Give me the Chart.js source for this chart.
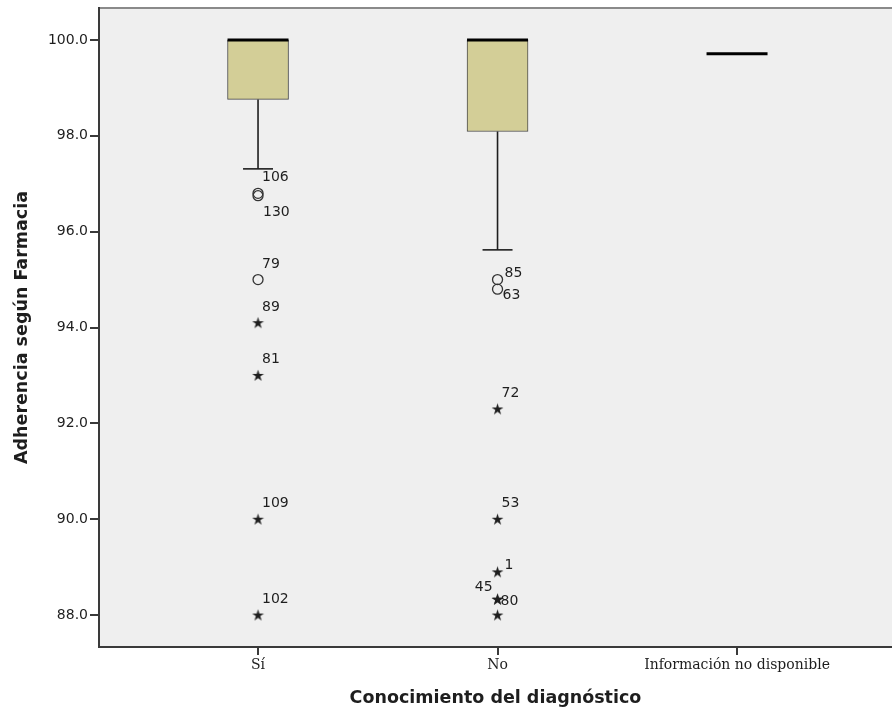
<!DOCTYPE html>
<html>
<head>
<meta charset="utf-8">
<script src="https://cdn.jsdelivr.net/npm/chart.js@4/dist/chart.umd.min.js"></script>
<style>
  html, body { margin: 0; padding: 0; background: #fff; }
  #wrap { width: 892px; height: 716px; }
</style>
</head>
<body>
<div id="wrap"><canvas id="boxChart" width="892" height="716"></canvas></div>
<script>
// box statistics per group
const categories = ['Sí', 'No', 'Información no disponible'];
const q1 = [98.76, 98.09, 99.71];
const median = [100.0, 100.0, 99.71];
const q3 = [100.0, 100.0, 99.71];
const whiskerLow = [97.31, 95.62, 99.71];
const whiskerHigh = [100.0, 100.0, 99.71];
const yTicks = [88, 90, 92, 94, 96, 98, 100];

// outliers (circle = atípico, star = extremo)
const outlierGroup = [0, 0, 0, 0, 0, 0, 0, 1, 1, 1, 1, 1, 1, 1, 1];
const outlierValue = [96.8, 96.75, 95.0, 94.1, 93.0, 90.0, 88.0, 95.0, 94.8, 92.3, 90.0, 88.9, 88.33, 88.33, 88.0];
const outlierId = ['106', '130', '79', '89', '81', '109', '102', '85', '63', '72', '53', '1', '45', '80', ''];
const outlierKind = ['circle', 'circle', 'circle', 'star', 'star', 'star', 'star', 'circle', 'circle', 'star', 'star', 'star', 'star', 'star', 'star'];

// where each case number sits relative to its mark
const labelPlacement = { '130': 'below', '85': 'upRight', '63': 'downRight', '80': 'right', '45': 'left', '1': 'upRight' };

const ink = '#1e1e1e';

const starImg = (() => {
  const c = document.createElement('canvas');
  c.width = 13; c.height = 13;
  const g = c.getContext('2d');
  g.beginPath();
  for (let k = 0; k < 10; k++) {
    const r = k % 2 === 0 ? 6.2 : 2.3;
    const a = -Math.PI / 2 + k * Math.PI / 5;
    const px = 6.5 + r * Math.cos(a), py = 6.9 + r * Math.sin(a);
    if (k === 0) g.moveTo(px, py); else g.lineTo(px, py);
  }
  g.closePath();
  g.fillStyle = ink;
  g.fill();
  return c;
})();

const boxes = [];
const whiskers = [];
const caps = [];
const medians = [];
categories.forEach((c, i) => {
  if (q3[i] > q1[i]) boxes.push({ x: i, y: [q1[i], q3[i]] });
  if (whiskerLow[i] < q1[i]) {
    whiskers.push({ x: i, y: q1[i] }, { x: i, y: whiskerLow[i] }, { x: i, y: null });
    caps.push({ x: i, y: whiskerLow[i] });
  }
  if (whiskerHigh[i] > q3[i]) {
    whiskers.push({ x: i, y: q3[i] }, { x: i, y: whiskerHigh[i] }, { x: i, y: null });
    caps.push({ x: i, y: whiskerHigh[i] });
  }
  medians.push({ x: i, y: median[i] });
});

const circlePts = [];
const starPts = [];
outlierValue.forEach((v, i) => {
  const p = { x: outlierGroup[i], y: v, id: outlierId[i] };
  if (outlierKind[i] === 'circle') circlePts.push(p); else starPts.push(p);
});

const plotFrame = {
  id: 'plotFrame',
  beforeDraw(chart) {
    const { ctx, chartArea: a } = chart;
    ctx.save();
    ctx.fillStyle = '#efefef';
    ctx.fillRect(a.left, a.top, a.right - a.left, a.bottom - a.top);
    ctx.strokeStyle = '#8a8a8a';
    ctx.lineWidth = 2;
    ctx.beginPath();
    ctx.moveTo(a.left, a.top);
    ctx.lineTo(a.right, a.top);
    ctx.stroke();
    ctx.restore();
  }
};

const caseLabels = {
  id: 'caseLabels',
  afterDatasetsDraw(chart) {
    const ctx = chart.ctx;
    ctx.save();
    ctx.font = '14px "DejaVu Sans"';
    ctx.fillStyle = ink;
    ctx.textBaseline = 'alphabetic';
    chart.data.datasets.forEach((ds, di) => {
      if (!ds.outliers) return;
      const meta = chart.getDatasetMeta(di);
      meta.data.forEach((el, j) => {
        const id = ds.data[j].id;
        if (!id) return;
        const pos = labelPlacement[id] || 'above';
        let tx = el.x + 4, ty = el.y - 12;
        ctx.textAlign = 'left';
        if (pos === 'below') { tx = el.x + 5; ty = el.y + 20; }
        else if (pos === 'upRight') { tx = el.x + 7; ty = el.y - 3; }
        else if (pos === 'downRight') { tx = el.x + 5; ty = el.y + 10; }
        else if (pos === 'right') { tx = el.x + 3; ty = el.y + 6; }
        else if (pos === 'left') { tx = el.x - 5; ty = el.y - 8; ctx.textAlign = 'right'; }
        ctx.fillText(id, tx, ty);
      });
    });
    ctx.restore();
  }
};

new Chart(document.getElementById('boxChart'), {
  type: 'bar',
  data: {
    datasets: [
      { type: 'bar', data: boxes, backgroundColor: '#d3ce97', borderColor: '#4a4a4a', borderWidth: 1, borderSkipped: false, barThickness: 61, order: 5 },
      { type: 'line', data: whiskers, borderColor: ink, borderWidth: 1.6, pointRadius: 0, spanGaps: false, order: 4 },
      { type: 'scatter', data: caps, pointStyle: 'line', pointRadius: 15, pointBorderWidth: 1.6, pointBorderColor: ink, order: 3 },
      { type: 'scatter', data: medians, pointStyle: 'line', pointRadius: 30.5, pointBorderWidth: 3, pointBorderColor: '#000', order: 1 },
      { type: 'scatter', outliers: true, data: circlePts, pointStyle: 'circle', pointRadius: 5, pointBorderWidth: 1.3, pointBorderColor: '#333', pointBackgroundColor: 'rgba(0,0,0,0)', order: 2 },
      { type: 'scatter', outliers: true, data: starPts, pointStyle: starImg, order: 2 }
    ]
  },
  options: {
    responsive: false,
    animation: false,
    layout: { autoPadding: false, padding: { top: 8, right: 0, bottom: 0, left: 0 } },
    plugins: { legend: { display: false }, tooltip: { enabled: false } },
    scales: {
      x: {
        type: 'linear',
        offset: false,
        min: -0.664,
        max: 2.647,
        afterBuildTicks: s => { s.ticks = categories.map((c, i) => ({ value: i })); },
        afterFit: s => { s.height = 69; s.paddingLeft = 0; s.paddingRight = 0; },
        ticks: {
          callback: v => categories[v],
          color: ink,
          font: { family: '"DejaVu Serif"', size: 14 },
          padding: 2,
          maxRotation: 0,
          autoSkip: false
        },
        grid: { offset: false, drawOnChartArea: false, tickLength: 8, color: '#3a3a3a', lineWidth: 2 },
        border: { color: '#3a3a3a', width: 2 },
        title: {
          display: true,
          text: 'Conocimiento del diagnóstico',
          color: ink,
          font: { family: '"DejaVu Sans"', size: 17.5, weight: 'bold' },
          padding: { top: 0, bottom: 7 }
        }
      },
      y: {
        min: 87.333,
        max: 100.667,
        afterBuildTicks: s => { s.ticks = yTicks.map(v => ({ value: v })); },
        afterFit: s => { s.width = 99; s.paddingTop = 0; s.paddingBottom = 0; },
        ticks: {
          callback: v => v.toFixed(1),
          color: ink,
          font: { family: '"DejaVu Sans"', size: 14 },
          padding: 2
        },
        grid: { drawOnChartArea: false, tickLength: 9, color: '#3a3a3a', lineWidth: 2 },
        border: { color: '#3a3a3a', width: 2 },
        title: {
          display: true,
          text: 'Adherencia según Farmacia',
          color: ink,
          font: { family: '"DejaVu Sans"', size: 17.5, weight: 'bold' },
          padding: { top: 12, bottom: 0 }
        }
      }
    }
  },
  plugins: [plotFrame, caseLabels]
});
</script>
</body>
</html>
